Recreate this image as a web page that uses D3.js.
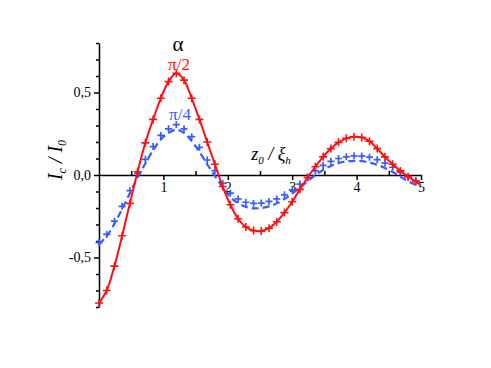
<!DOCTYPE html>
<html><head><meta charset="utf-8">
<script src="https://cdn.jsdelivr.net/npm/d3@7"></script>
<style>
body{margin:0;background:#fff;}
svg{display:block;}
svg text{font-family:"Liberation Serif","Times New Roman",serif;}
</style></head>
<body><svg id="c" width="491" height="368" font-family="Liberation Serif"></svg>
<script>
// z0 / xi_h values (grid of the computed points)
const zValues = [0,0.12,0.24,0.36,0.48,0.60,0.72,0.84,0.96,1.08,1.20,1.32,1.44,1.56,1.68,1.80,1.92,2.04,2.16,2.28,2.40,2.52,2.64,2.76,2.88,3.00,3.12,3.24,3.36,3.48,3.60,3.72,3.84,3.96,4.08,4.20,4.32,4.44,4.56,4.68,4.80,4.92,5.00];
// alpha = pi/2 (red, solid line with + markers)
const seriesPi2 = [-0.776,-0.700,-0.552,-0.368,-0.172,0.02,0.195,0.337,0.465,0.566,0.616,0.575,0.465,0.337,0.20,0.065,-0.07,-0.18,-0.265,-0.315,-0.337,-0.34,-0.322,-0.283,-0.228,-0.162,-0.087,-0.015,0.05,0.11,0.16,0.198,0.222,0.232,0.228,0.205,0.16,0.11,0.065,0.025,-0.01,-0.04,-0.06];
// alpha = pi/4 (blue + markers)
const seriesPi4Markers = [-0.41,-0.36,-0.28,-0.19,-0.095,0.01,0.095,0.172,0.24,0.28,0.305,0.28,0.232,0.168,0.091,0.026,-0.05,-0.11,-0.145,-0.165,-0.172,-0.17,-0.16,-0.145,-0.12,-0.09,-0.055,-0.015,0.025,0.058,0.083,0.10,0.11,0.116,0.115,0.108,0.093,0.072,0.047,0.018,-0.012,-0.035,-0.05];
// alpha = pi/4 (blue dashed)
const seriesPi4Dashed = [-0.42,-0.37,-0.295,-0.205,-0.11,-0.015,0.07,0.15,0.215,0.255,0.275,0.255,0.205,0.14,0.065,-0.005,-0.075,-0.135,-0.17,-0.193,-0.202,-0.20,-0.19,-0.172,-0.145,-0.113,-0.076,-0.038,0.0,0.03,0.055,0.072,0.082,0.086,0.084,0.076,0.062,0.042,0.018,-0.01,-0.038,-0.06,-0.072];
const xTickValues = [1,2,3,4,5];
const xMinorTicks = [0.5,1.5,2.5,3.5,4.5];
const yTickValues = [-0.5,0,0.5];
const yMinorTicks = [-0.8,-0.7,-0.6,-0.4,-0.3,-0.2,-0.1,0.1,0.2,0.3,0.4,0.6,0.7,0.8];

const RED = "#ff1010", BLUE = "#3a5cff";
const SERIF = "Liberation Serif";
const svg = d3.select("#c");
const x = d3.scaleLinear().domain([0,5]).range([99,421]);
const y = d3.scaleLinear().domain([-0.8,0.8]).range([307,43]);

const fmt = v => d3.format(".1f")(v).replace(".", ",").replace("−","-");

// x axis
const gx = svg.append("g").attr("transform",`translate(0,${y(0)})`)
  .call(d3.axisBottom(x).tickValues(xTickValues).tickSize(5).tickSizeOuter(0).tickPadding(2).tickFormat(d3.format("d")));
const gxm = svg.append("g").attr("transform",`translate(0,${y(0)})`)
  .call(d3.axisBottom(x).tickValues(xMinorTicks).tickSize(-4).tickSizeOuter(0).tickFormat(""));
gxm.select(".domain").remove();

// y axis
const gy = svg.append("g").attr("transform",`translate(${x(0)},0)`)
  .call(d3.axisLeft(y).tickValues(yTickValues).tickSize(5).tickSizeOuter(0).tickPadding(3).tickFormat(fmt));
const gym = svg.append("g").attr("transform",`translate(${x(0)},0)`)
  .call(d3.axisLeft(y).tickValues(yMinorTicks).tickSize(3).tickSizeOuter(0).tickFormat(""));
gym.select(".domain").remove();
svg.selectAll("g").attr("font-family",SERIF);
svg.selectAll(".tick text").attr("font-size",14).attr("fill","#000").attr("font-family",SERIF);
svg.selectAll(".domain, .tick line").attr("stroke","#000").attr("stroke-width",1.5);

const pts = ys => zValues.map((z,i)=>[z, ys[i]]);
const line = d3.line().x(d=>x(d[0])).y(d=>y(d[1])).curve(d3.curveCatmullRom);

// blue dashed
svg.append("path").datum(pts(seriesPi4Dashed)).attr("d",line)
  .attr("fill","none").attr("stroke",BLUE).attr("stroke-width",2.2).attr("stroke-dasharray","7,4");
// + markers
const plus = (g, data, color, sz, sw) => {
  g.selectAll("path.m").data(data.filter(d=>d[0] < 4.95)).enter().append("path")
    .attr("d", d=>{const cx=x(d[0]), cy=y(d[1]); return `M${cx-sz},${cy}H${cx+sz}M${cx},${cy-sz}V${cy+sz}`;})
    .attr("stroke",color).attr("stroke-width",sw).attr("fill","none");
};
plus(svg.append("g"), pts(seriesPi4Markers), BLUE, 3.5, 1.7);

// red line + markers
svg.append("path").datum(pts(seriesPi2)).attr("d",line)
  .attr("fill","none").attr("stroke",RED).attr("stroke-width",2);
plus(svg.append("g"), pts(seriesPi2), RED, 4, 1.6);

// labels
svg.append("text").attr("x",178).attr("y",51).attr("text-anchor","middle").attr("font-family",SERIF).attr("font-size",21).attr("fill","#000").text("α");
svg.append("text").attr("x",179).attr("y",70).attr("text-anchor","middle").attr("font-family",SERIF).attr("font-size",17).attr("fill",RED).text("π/2");
svg.append("text").attr("x",180).attr("y",120).attr("text-anchor","middle").attr("font-family",SERIF).attr("font-size",17).attr("fill",BLUE).text("π/4");

// x label
const xl = svg.append("text").attr("x",271).attr("y",160).attr("text-anchor","middle").attr("font-family",SERIF).attr("font-size",18).attr("font-style","italic").attr("fill","#000");
xl.append("tspan").text("z");
xl.append("tspan").attr("font-size",11).attr("dy",4).text("0");
xl.append("tspan").attr("dy",-4).text(" / ξ");
xl.append("tspan").attr("font-size",11).attr("dy",4).text("h");

// y label
const yl = svg.append("text").attr("transform","translate(62,160) rotate(-90)").attr("text-anchor","middle").attr("font-family",SERIF).attr("font-size",20).attr("font-style","italic").attr("fill","#000");
yl.append("tspan").text("I");
yl.append("tspan").attr("font-size",12).attr("dy",4).text("c");
yl.append("tspan").attr("dy",-4).text(" / I");
yl.append("tspan").attr("font-size",12).attr("dy",4).text("0");
</script></body></html>
